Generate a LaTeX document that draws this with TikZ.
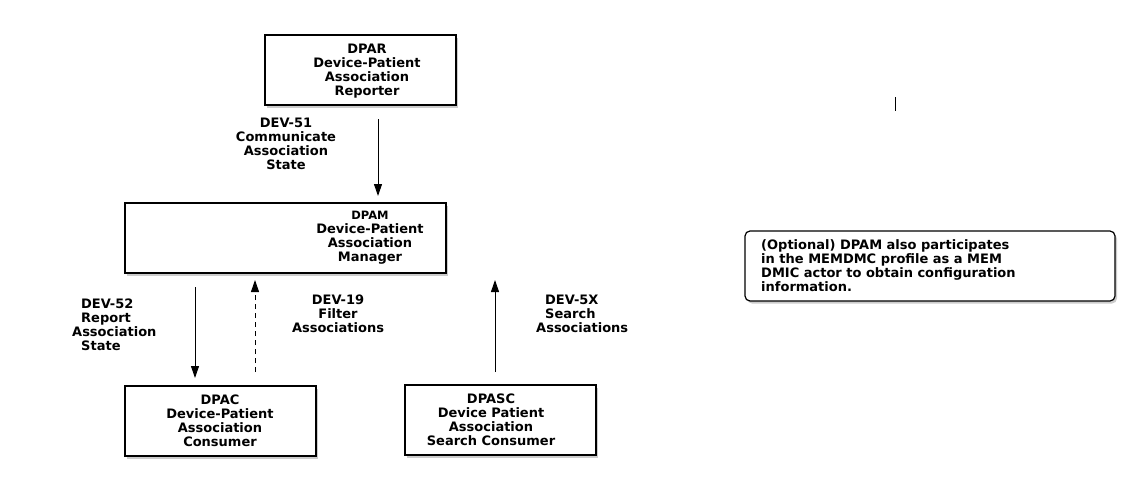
\documentclass[tikz,border=0pt]{standalone}
\usepackage{fontspec}
\setmainfont{DejaVu Sans}
\usetikzlibrary{arrows.meta,shadows}
\begin{document}
\begin{tikzpicture}[x=1pt,y=-1pt,
  every node/.style={font=\bfseries\fontsize{13}{14}\selectfont},
  box/.style={draw, line width=1.2pt, fill=white,
    drop shadow={shadow xshift=2pt,shadow yshift=-2.5pt,opacity=0.4}, inner sep=0pt},
  lbl/.style={align=center, inner sep=0pt},
  lbll/.style={align=left, inner sep=0pt, anchor=west},
  conn/.style={line width=1pt, -{Triangle[length=12pt,width=8pt]}}]
\path[use as bounding box] (0,0) rectangle (1140,490);

% boxes
\node[box, minimum width=191pt, minimum height=70pt] (dpar) at (360.5,70) {};
\node[box, minimum width=321pt, minimum height=70pt] (dpam) at (285.5,238) {};
\node[box, minimum width=191pt, minimum height=70pt] (dpac) at (220.5,421) {};
\node[box, minimum width=191pt, minimum height=70pt] (dpasc) at (500.5,420) {};
\node[box, rounded corners=5pt, minimum width=370pt, minimum height=70pt] (note) at (930,266) {};

% box texts
\node[lbl] (dpart) at (367,71) {DPAR\\Device-Patient\\Association\\Reporter};
\node[lbl] (dpamt) at (370,238) {{\fontsize{11.5}{14}\selectfont DPAM}\\Device-Patient\\Association\\Manager};
\node[lbl] (dpact) at (220,421) {DPAC\\Device-Patient\\Association\\Consumer};
\node[lbl] (dpasct) at (491,420) {DPASC\\Device Patient\\Association\\Search Consumer};
\node[lbll] (notet) at (761,266) {(Optional) DPAM also participates\\in the MEMDMC profile as a MEM\\DMIC actor to obtain configuration\\information.};

% connector labels
\node[lbl] (l51) at (286,144) {DEV-51\\Communicate\\Association\\State};
\node[lbll] (l52) at (81,325) {DEV-52\\Report\\\hspace*{-9pt}Association\\State};
\node[lbl] (l19) at (338,314) {DEV-19\\Filter\\Associations};
\node[lbll] (l5x) at (545,314) {DEV-5X\\Search\\\hspace*{-9pt}Associations};

% connector end points
\coordinate (a51s) at (378,119);
\coordinate (a51e) at (378,196);
\coordinate (a52s) at (195,287);
\coordinate (a52e) at (195,378);
\coordinate (a19s) at (255,372);
\coordinate (a19e) at (255,280);
\coordinate (a5xs) at (495,372);
\coordinate (a5xe) at (495,280);

\draw[conn] (a51s) -- (a51e);
\draw[conn] (a52s) -- (a52e);
\draw[conn, dash pattern=on 5pt off 4pt] (a19s) -- (a19e);
\draw[conn] (a5xs) -- (a5xe);

% small tick
\coordinate (tk1) at (895,97);
\coordinate (tk2) at (895,111);
\draw[line width=0.9pt] (tk1) -- (tk2);
\end{tikzpicture}
\end{document}
